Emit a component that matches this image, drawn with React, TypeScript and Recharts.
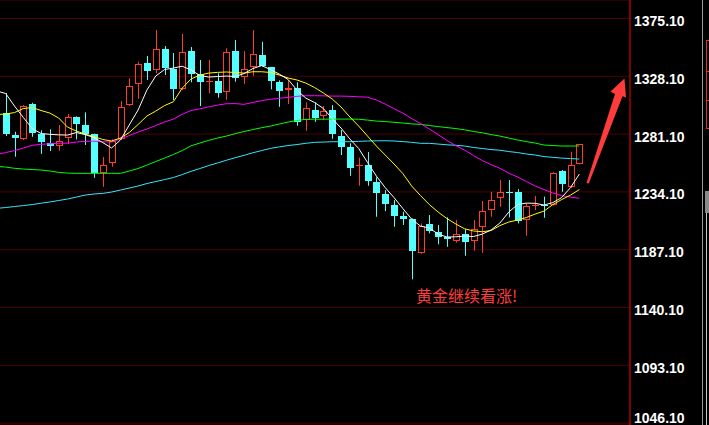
import React from 'react';
import { ComposedChart, Bar, Line, XAxis, YAxis, CartesianGrid } from 'recharts';

// Daily gold candles (index 1..66)
const opens = [1298.2,1280.3,1276.8,1305.5,1281.1,1274.1,1271.1,1277.6,1295.0,1288.5,1281.1,1249.2,1257.3,1276.8,1304.5,1321.6,1338.9,1332.9,1350.3,1334.2,1318.0,1348.6,1329.9,1323.7,1324.2,1315.1,1348.6,1327.7,1335.9,1345.4,1335.4,1323.2,1316.7,1318.8,1292.3,1300.4,1295.5,1300.4,1279.5,1270.6,1254.9,1255.7,1242.1,1232.1,1223.2,1214.7,1212.0,1184.6,1208.0,1201.5,1197.2,1194.4,1199.6,1193.9,1205.3,1219.1,1228.9,1234.4,1234.2,1211.5,1223.0,1223.4,1223.4,1251.1,1237.8,1256.7];
const highs = [1314.5,1283.0,1304.7,1306.6,1284.2,1285.0,1288.5,1297.4,1295.5,1298.8,1281.5,1262.4,1276.8,1308.0,1326.4,1339.9,1344.6,1365.7,1352.7,1347.0,1362.5,1351.9,1341.3,1341.6,1330.5,1350.8,1357.6,1348.6,1365.7,1356.2,1335.8,1324.8,1325.1,1323.2,1306.9,1306.9,1303.9,1304.7,1284.4,1273.6,1261.9,1266.5,1245.9,1235.6,1227.5,1218.0,1212.5,1208.5,1215.3,1207.2,1213.4,1211.2,1203.7,1211.2,1226.7,1234.2,1243.7,1243.7,1236.4,1224.8,1230.7,1230.2,1250.0,1251.9,1266.8,1273.0];
const lows = [1279.5,1262.7,1276.3,1278.9,1265.1,1267.3,1267.6,1273.0,1276.8,1272.2,1245.6,1238.3,1254.6,1276.3,1304.0,1309.8,1325.1,1330.5,1329.1,1308.8,1316.9,1323.2,1303.9,1314.2,1310.7,1309.0,1323.7,1322.0,1328.5,1336.0,1317.5,1303.3,1305.5,1287.9,1283.8,1291.1,1292.3,1277.3,1264.1,1247.2,1239.1,1239.1,1213.9,1218.5,1205.8,1207.2,1163.0,1183.8,1200.4,1191.5,1189.5,1192.8,1182.2,1186.3,1184.6,1213.9,1222.0,1213.4,1208.5,1198.5,1219.3,1213.1,1223.0,1234.2,1237.4,1256.5];
const closes = [1281.1,1278.1,1303.7,1282.2,1274.9,1271.6,1275.7,1294.7,1289.0,1281.4,1249.2,1255.7,1275.7,1303.1,1319.9,1337.8,1332.6,1350.3,1334.6,1318.0,1347.8,1330.2,1323.7,1324.5,1314.7,1347.6,1326.4,1333.8,1345.9,1336.4,1324.5,1316.4,1318.3,1291.1,1302.0,1294.4,1299.6,1281.4,1270.6,1253.7,1255.7,1243.2,1233.4,1224.5,1214.7,1212.3,1186.3,1206.3,1202.5,1197.2,1195.5,1199.6,1193.6,1203.7,1218.5,1227.5,1234.0,1233.6,1210.6,1222.6,1223.4,1222.8,1249.2,1240.2,1255.7,1272.8];

// Moving averages (index 0..66; index 0 lies just off the left edge)
const maWhite = [1316.1,1314.1,1303.9,1294.6,1285.6,1281.6,1280.9,1280.5,1280.3,1282.4,1280.7,1278.3,1274.2,1269.8,1276.3,1288.5,1300.7,1316.9,1328.3,1333.6,1334.8,1336.3,1333.2,1328.7,1327.5,1327.9,1328.3,1327.9,1330.3,1334.4,1336.8,1333.6,1329.9,1325.5,1316.9,1310.4,1306.8,1301.9,1293.7,1286.0,1277.1,1269.4,1258.0,1247.0,1237.6,1229.5,1220.6,1212.0,1206.3,1204.7,1199.8,1197.4,1197.6,1198.2,1197.8,1199.8,1203.1,1208.8,1217.7,1223.8,1225.0,1224.8,1223.4,1225.4,1229.5,1237.6,1248.6];
const maYellow = [1297.0,1297.4,1298.6,1301.9,1302.7,1300.3,1298.2,1294.2,1286.8,1283.6,1281.1,1279.1,1276.7,1275.5,1277.9,1282.4,1288.9,1295.8,1299.8,1304.3,1307.4,1318.5,1325.9,1329.1,1330.7,1331.3,1331.6,1331.2,1330.7,1331.8,1331.8,1331.2,1329.1,1326.7,1325.1,1322.6,1319.0,1314.5,1309.6,1303.1,1295.0,1287.6,1279.5,1271.4,1264.1,1256.8,1249.0,1238.9,1231.1,1223.8,1217.7,1212.4,1208.0,1204.1,1202.3,1201.7,1202.7,1206.7,1209.6,1211.2,1213.3,1216.1,1218.5,1223.8,1227.9,1231.5,1236.0];
const maMagenta = [1264.5,1266.1,1267.7,1269.8,1272.0,1272.8,1273.2,1273.6,1273.7,1274.6,1275.2,1275.3,1274.9,1274.6,1277.1,1279.9,1282.8,1285.2,1288.1,1290.9,1293.3,1297.2,1300.3,1301.6,1303.3,1304.7,1305.8,1305.9,1305.3,1306.8,1308.3,1309.4,1310.2,1311.0,1311.8,1312.3,1312.3,1312.2,1312.0,1312.0,1311.8,1311.4,1311.1,1308.8,1305.5,1301.8,1298.2,1293.7,1289.7,1285.2,1280.7,1275.9,1271.8,1268.1,1263.7,1259.6,1256.3,1253.3,1249.4,1246.2,1242.5,1238.9,1236.0,1233.2,1231.1,1229.9,1228.9];
const maGreen = [1254.9,1254.3,1253.3,1252.7,1252.3,1251.9,1251.1,1250.0,1249.4,1249.2,1249.2,1249.2,1249.2,1249.2,1249.2,1251.1,1253.1,1255.9,1258.8,1261.6,1264.5,1267.7,1271.6,1273.8,1276.0,1277.9,1279.5,1281.4,1283.2,1284.8,1286.3,1287.6,1289.3,1290.9,1292.1,1293.1,1293.2,1293.2,1293.3,1293.3,1293.3,1293.2,1292.5,1291.7,1291.3,1290.7,1290.1,1289.4,1289.0,1288.1,1287.2,1286.4,1285.6,1284.6,1283.2,1282.2,1280.7,1279.5,1277.9,1276.3,1275.0,1273.8,1272.2,1271.8,1271.4,1271.4,1271.4];
const maCyan = [1220.7,1221.4,1222.2,1223.0,1223.8,1224.9,1225.9,1227.1,1228.3,1229.9,1231.5,1232.4,1232.9,1234.0,1235.6,1237.2,1238.9,1240.9,1242.5,1244.1,1245.8,1248.2,1250.8,1253.1,1255.5,1257.6,1259.8,1261.9,1263.8,1265.9,1267.7,1269.5,1270.7,1271.8,1272.6,1273.6,1274.4,1274.6,1274.9,1274.9,1274.9,1275.2,1275.5,1275.6,1275.7,1275.5,1275.0,1274.4,1273.6,1273.6,1273.0,1272.4,1272.0,1271.4,1270.2,1269.4,1268.5,1268.0,1266.9,1266.1,1264.9,1264.1,1262.8,1262.2,1261.6,1261.2,1260.8];

const yTicks = [1046.1, 1093.1, 1140.1, 1187.1, 1234.1, 1281.1, 1328.1, 1375.1];
const annotation = '黄金继续看涨!';

const data = maWhite.map((_, i) => {
  const row: any = {
    idx: i,
    maWhite: maWhite[i],
    maYellow: maYellow[i],
    maMagenta: maMagenta[i],
    maGreen: maGreen[i],
    maCyan: maCyan[i],
  };
  if (i >= 1) {
    const k = i - 1;
    row.o = opens[k];
    row.h = highs[k];
    row.l = lows[k];
    row.c = closes[k];
    row.range = [lows[k], highs[k]];
  }
  return row;
});

const UP = '#ff3c26';
const DOWN = '#54ffff';

function Candle(props: any) {
  const { x, y, width, height, payload } = props;
  if (!payload || payload.o == null || x == null || isNaN(y)) return null;
  const { o, h, l, c } = payload;
  const cx = Math.round(x + width / 2);
  const py = (p: number) => (h === l ? y : y + ((h - p) / (h - l)) * height);
  const yH = py(h), yL = py(l), yO = py(o), yC = py(c);
  const t = Math.round(Math.min(yO, yC));
  const b = Math.round(Math.max(yO, yC));
  if (c >= o) {
    return (
      <g>
        <line x1={cx + 0.5} x2={cx + 0.5} y1={yH} y2={t} stroke={UP} />
        <line x1={cx + 0.5} x2={cx + 0.5} y1={b} y2={yL} stroke={UP} />
        {b - t < 2 ? (
          <line x1={cx - 3} x2={cx + 4} y1={t + 0.5} y2={t + 0.5} stroke={UP} />
        ) : (
          <rect x={cx - 2.5} y={t + 0.5} width={6} height={b - t - 1} fill="none" stroke={UP} />
        )}
      </g>
    );
  }
  return (
    <g>
      <line x1={cx + 0.5} x2={cx + 0.5} y1={yH} y2={yL} stroke={DOWN} />
      {b - t < 2 ? (
        <line x1={cx - 3} x2={cx + 4} y1={t + 0.5} y2={t + 0.5} stroke={DOWN} />
      ) : (
        <rect x={cx - 3} y={t} width={7} height={b - t} fill={DOWN} />
      )}
    </g>
  );
}

function PriceTick(props: any) {
  const { x, y, payload } = props;
  const baseline = Math.min(y + 7.5, 423);
  return (
    <text
      x={x}
      y={baseline}
      fill="#ffffff"
      fontFamily="'Liberation Sans', Arial, sans-serif"
      fontWeight="bold"
      fontSize={14}
      textAnchor="start"
    >
      {Number(payload.value).toFixed(2)}
    </text>
  );
}

export default function App() {
  return (
    <div style={{ position: 'absolute', left: 0, top: 0, width: 709, height: 425, background: '#000', overflow: 'hidden' }}>
      <ComposedChart
        width={709}
        height={425}
        data={data}
        margin={{ top: 0, right: 0, bottom: 0, left: 0 }}
        style={{ background: '#000' }}
      >
        <CartesianGrid stroke="#500000" vertical={false} horizontal={true} />
        <XAxis dataKey="idx" type="number" domain={[0.354, 71.74]} allowDataOverflow hide />
        <YAxis
          orientation="right"
          width={79}
          domain={[1044.56, 1390.14]}
          allowDataOverflow
          ticks={yTicks}
          interval={0}
          tickLine={false}
          tickSize={0}
          tickMargin={4}
          axisLine={{ stroke: '#ff0000' }}
          tick={<PriceTick />}
        />
        <Bar dataKey="range" barSize={7} shape={<Candle />} isAnimationActive={false} />
        <Line dataKey="maCyan" stroke="#33e6ff" dot={false} strokeWidth={1} isAnimationActive={false} />
        <Line dataKey="maGreen" stroke="#00ff00" dot={false} strokeWidth={1} isAnimationActive={false} />
        <Line dataKey="maMagenta" stroke="#ff00ff" dot={false} strokeWidth={1} isAnimationActive={false} />
        <Line dataKey="maYellow" stroke="#ffff00" dot={false} strokeWidth={1} isAnimationActive={false} />
        <Line dataKey="maWhite" stroke="#ffffff" dot={false} strokeWidth={1} isAnimationActive={false} />
      </ComposedChart>

      <svg width={709} height={425} style={{ position: 'absolute', left: 0, top: 0, pointerEvents: 'none' }}>
        <polygon
          points="586.5,183 588.8,183.4 622.5,96.2 626,97.5 624.5,78.5 610.5,91.5 615,94"
          fill="#ff3b3b"
        />
        <line x1={702.5} y1={0} x2={702.5} y2={425} stroke="#9a9a9a" />
        <rect x={706.5} y={40.5} width={6} height={88} fill="none" stroke="#e03020" />
        <line x1={706} y1={71.5} x2={709} y2={71.5} stroke="#e03020" />
        <line x1={706} y1={100.5} x2={709} y2={100.5} stroke="#e03020" />
        <rect x={705} y={191} width={4} height={22} fill="#8a8a8a" />
        <line x1={706.5} y1={213} x2={706.5} y2={425} stroke="#c8c8c8" />
      </svg>

      <div
        style={{
          position: 'absolute',
          left: 416,
          top: 285,
          color: '#ff3c3c',
          fontFamily: "'Noto Sans CJK SC', sans-serif",
          fontSize: 16,
          lineHeight: '20px',
          whiteSpace: 'nowrap',
        }}
      >
        {annotation}
      </div>
    </div>
  );
}
